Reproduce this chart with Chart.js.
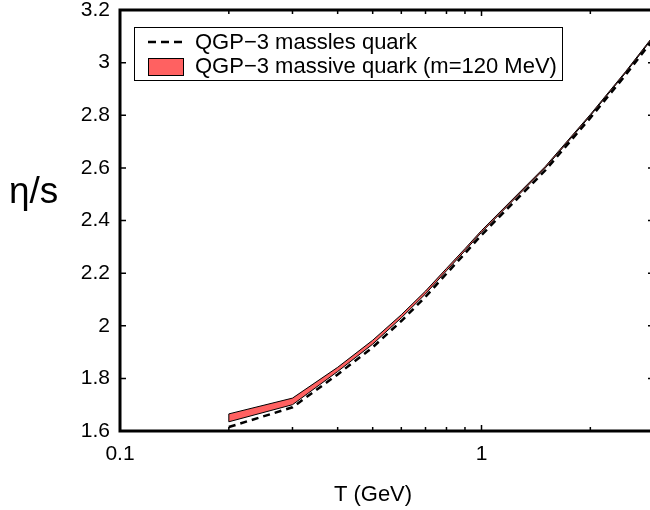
<!DOCTYPE html>
<html>
<head>
<meta charset="utf-8">
<script src="https://cdn.jsdelivr.net/npm/chart.js@4.4.1/dist/chart.umd.min.js"></script>
<style>
  html, body { margin: 0; padding: 0; background: #fff; overflow: hidden; }
  #wrap { position: relative; width: 660px; height: 510px; }
</style>
</head>
<body>
<div id="wrap"><canvas id="c" width="660" height="510"></canvas></div>
<script>
// ---- data ----
const T = [0.2, 0.3, 0.4, 0.5, 0.6, 0.7, 0.8, 0.9, 1.0, 1.5, 2.0, 2.5, 3.0];
const massiveUpper = [1.665, 1.725, 1.842, 1.945, 2.042, 2.132, 2.218, 2.293, 2.362, 2.605, 2.803, 2.965, 3.105];
const massiveLower = [1.635, 1.700, 1.826, 1.930, 2.030, 2.121, 2.209, 2.285, 2.355, 2.599, 2.798, 2.960, 3.100];
const massless     = [1.615, 1.690, 1.815, 1.918, 2.018, 2.110, 2.198, 2.275, 2.345, 2.590, 2.790, 2.952, 3.092];

const xTicks = [0.1, 0.2, 0.3, 0.4, 0.5, 0.6, 0.7, 0.8, 0.9, 1, 2, 3];
const xTickLabels = ['0.1', '', '', '', '', '', '', '', '', '1', '', ''];
const xMajor = [0.1, 1];
const yTicks = [1.6, 1.8, 2.0, 2.2, 2.4, 2.6, 2.8, 3.0, 3.2];
const yTickLabels = ['1.6', '1.8', '2', '2.2', '2.4', '2.6', '2.8', '3', '3.2'];

const legendLabels = ['QGP\u22123 massles quark', 'QGP\u22123 massive quark (m=120 MeV)'];
const xTitle = 'T (GeV)';
const yTitle = '\u03B7/s';

const RED = '#ff6161';
const FONT = '"Liberation Sans", Arial, Helvetica, sans-serif';

// closed polygon for the band
const bandData = T.map((t, i) => ({ x: t, y: massiveUpper[i] }))
  .concat(T.slice().reverse().map((t, j) => ({ x: t, y: massiveLower[T.length - 1 - j] })))
  .concat([{ x: T[0], y: massiveUpper[0] }]);
const masslessData = T.map((t, i) => ({ x: t, y: massless[i] }));

const framePlugin = {
  id: 'frame',
  afterDraw(chart) {
    const ctx = chart.ctx;
    const a = chart.chartArea;
    const xs = chart.scales.x, ys = chart.scales.y;
    ctx.save();
    // inward ticks
    ctx.strokeStyle = '#000';
    ctx.lineWidth = 1.5;
    ctx.beginPath();
    xTicks.forEach(v => {
      const px = xs.getPixelForValue(v);
      const len = xMajor.includes(v) ? 6 : 4;
      ctx.moveTo(px, a.bottom); ctx.lineTo(px, a.bottom - len);
      ctx.moveTo(px, a.top); ctx.lineTo(px, a.top + len);
    });
    yTicks.forEach(v => {
      const py = ys.getPixelForValue(v);
      ctx.moveTo(a.left, py); ctx.lineTo(a.left + 6, py);
      ctx.moveTo(a.right, py); ctx.lineTo(a.right - 6, py);
    });
    ctx.stroke();
    // frame
    ctx.lineWidth = 3;
    ctx.strokeRect(a.left, a.top, a.right - a.left, a.bottom - a.top);

    // legend
    const bx = 134, by = 27, bw = 428, bh = 53;
    ctx.fillStyle = '#fff';
    ctx.fillRect(bx, by, bw, bh);
    ctx.lineWidth = 1;
    ctx.strokeStyle = '#000';
    ctx.strokeRect(bx + 0.5, by + 0.5, bw, bh);
    // row 1: dashed line
    ctx.lineWidth = 2.5;
    ctx.setLineDash([8, 5]);
    ctx.beginPath();
    ctx.moveTo(148, 42); ctx.lineTo(183, 42);
    ctx.stroke();
    ctx.setLineDash([]);
    // row 2: red patch
    ctx.fillStyle = RED;
    ctx.fillRect(148, 58, 35, 17);
    ctx.lineWidth = 1;
    ctx.strokeRect(148.5, 58.5, 35, 17);
    ctx.fillStyle = '#000';
    ctx.font = '22px ' + FONT;
    ctx.textAlign = 'left';
    ctx.textBaseline = 'middle';
    ctx.fillText(legendLabels[0], 195, 43);
    ctx.fillText(legendLabels[1], 195, 67);

    // axis titles
    ctx.font = '22px ' + FONT;
    ctx.textAlign = 'center';
    ctx.textBaseline = 'alphabetic';
    ctx.fillText(xTitle, 373, 501);
    ctx.font = '37px ' + FONT;
    ctx.textAlign = 'left';
    ctx.fillText(yTitle, 9, 203);
    ctx.restore();
  }
};

new Chart(document.getElementById('c'), {
  type: 'line',
  data: {
    datasets: [
      {
        label: legendLabels[0],
        data: masslessData,
        borderColor: '#000',
        borderWidth: 2.5,
        borderDash: [7, 5],
        pointRadius: 0,
        fill: false,
        tension: 0,
        order: 0
      },
      {
        label: legendLabels[1],
        data: bandData,
        borderColor: '#000',
        borderWidth: 1,
        backgroundColor: RED,
        pointRadius: 0,
        fill: 'shape',
        tension: 0,
        order: 1
      }
    ]
  },
  options: {
    responsive: false,
    animation: false,
    devicePixelRatio: 1,
    layout: { padding: { left: 0, right: 6, top: 10, bottom: 0 } },
    plugins: { legend: { display: false }, tooltip: { enabled: false }, title: { display: false } },
    scales: {
      x: {
        type: 'logarithmic',
        min: 0.1,
        max: 3,
        grid: { display: false, drawTicks: false },
        border: { display: false },
        afterBuildTicks: s => { s.ticks = xTicks.map(v => ({ value: v })); },
        afterFit: s => { s.height = 79; s.paddingLeft = 0; s.paddingRight = 0; s.paddingTop = 0; s.paddingBottom = 0; },
        ticks: {
          autoSkip: false,
          maxRotation: 0,
          padding: 11,
          color: '#000',
          font: { family: FONT, size: 21 },
          callback: (v, i) => xTickLabels[i]
        }
      },
      y: {
        type: 'linear',
        min: 1.6,
        max: 3.2,
        grid: { display: false, drawTicks: false },
        border: { display: false },
        afterBuildTicks: s => { s.ticks = yTicks.map(v => ({ value: v })); },
        afterFit: s => { s.width = 120; s.paddingLeft = 0; s.paddingRight = 0; s.paddingTop = 0; s.paddingBottom = 0; },
        ticks: {
          autoSkip: false,
          padding: 10,
          color: '#000',
          font: { family: FONT, size: 21 },
          callback: (v, i) => yTickLabels[i]
        }
      }
    }
  },
  plugins: [framePlugin]
});
</script>
</body>
</html>
